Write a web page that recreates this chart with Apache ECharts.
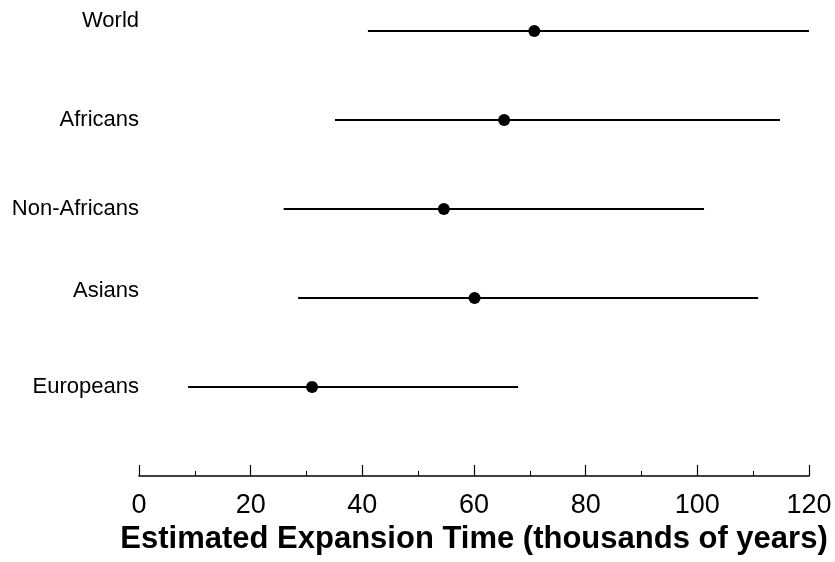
<!DOCTYPE html>
<html>
<head>
<meta charset="utf-8">
<script src="https://cdn.jsdelivr.net/npm/echarts@6/dist/echarts.min.js"></script>
<style>
  html, body { margin: 0; padding: 0; background: #fff; }
  #chart { width: 835px; height: 562px; }
</style>
</head>
<body>
<div id="chart"></div>
<script>
// groups from bottom slot (axis, empty) to top
var groups = ["", "Europeans", "Asians", "Non-Africans", "Africans", "World"];
var lowValues = [null, 8.8, 28.5, 25.9, 35.1, 41.0];
var estimateValues = [null, 31.0, 60.1, 54.6, 65.4, 70.8];
var highValues = [null, 67.9, 110.9, 101.2, 114.8, 120.0];
var xTicks = [0, 20, 40, 60, 80, 100, 120];

var rows = [];
for (var i = 0; i < groups.length; i++) {
    if (estimateValues[i] === null) continue;
    rows.push([lowValues[i], estimateValues[i], highValues[i], groups[i]]);
}

var labelFont = "Liberation Sans, Arial, sans-serif";
var chart = echarts.init(document.getElementById("chart"));

var option = {
    animation: false,
    grid: { left: 139, right: 26, top: 31, bottom: 86, containLabel: false },
    xAxis: {
        type: "value",
        min: xTicks[0],
        max: xTicks[xTicks.length - 1],
        interval: 20,
        name: "Estimated Expansion Time (thousands of years)",
        nameLocation: "middle",
        nameGap: 44,
        nameTextStyle: {
            fontFamily: labelFont,
            fontWeight: "bold",
            fontSize: 31,
            color: "#000"
        },
        axisLine: { show: true, lineStyle: { color: "#000", width: 1.6 } },
        axisTick: { show: true, inside: true, length: 11, lineStyle: { color: "#000", width: 1.2 } },
        minorTick: { show: true, splitNumber: 2, length: 5, lineStyle: { color: "#000", width: 1 } },
        splitLine: { show: false },
        axisLabel: {
            margin: 16,
            fontFamily: "Liberation Sans Narrow, Arial Narrow, Liberation Sans, sans-serif",
            fontSize: 27,
            color: "#000"
        }
    },
    yAxis: {
        type: "category",
        data: groups,
        boundaryGap: false,
        axisLine: { show: false },
        axisTick: { show: false },
        splitLine: { show: false },
        axisLabel: {
            margin: 0,
            align: "right",
            fontFamily: labelFont,
            fontSize: 22,
            color: "#000",
            formatter: function (v) {
                if (v === "World") return "{up10|" + v + "}";
                if (v === "Asians") return "{up7|" + v + "}";
                return v;
            },
            rich: {
                up10: { fontSize: 22, fontFamily: labelFont, color: "#000", padding: [0, 0, 20, 0] },
                up7: { fontSize: 22, fontFamily: labelFont, color: "#000", padding: [0, 0, 14, 0] }
            }
        }
    },
    series: [{
        type: "custom",
        clip: false,
        data: rows,
        encode: { x: [0, 1, 2], y: 3 },
        renderItem: function (params, api) {
            var cat = api.value(3);
            var a = api.coord([api.value(0), cat]);
            var m = api.coord([api.value(1), cat]);
            var b = api.coord([api.value(2), cat]);
            return {
                type: "group",
                children: [
                    {
                        type: "line",
                        shape: { x1: a[0], y1: a[1], x2: b[0], y2: b[1] },
                        style: { stroke: "#000", lineWidth: 1.8 }
                    },
                    {
                        type: "circle",
                        shape: { cx: m[0], cy: m[1], r: 6 },
                        style: { fill: "#000" }
                    }
                ]
            };
        }
    }]
};

chart.setOption(option);
</script>
</body>
</html>
